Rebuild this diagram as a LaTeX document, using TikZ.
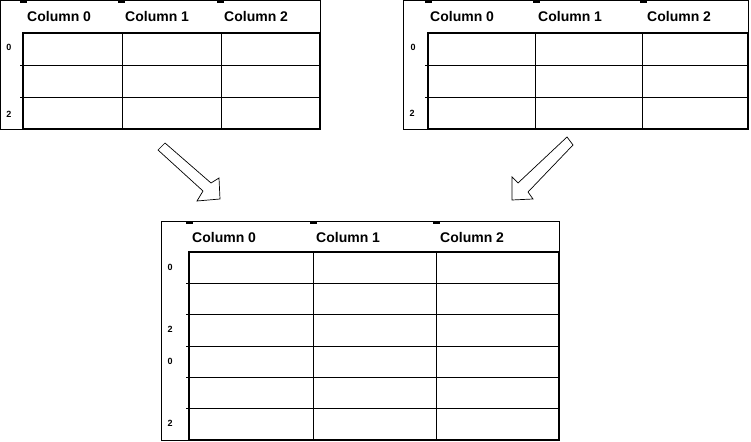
\documentclass[tikz,border=0pt]{standalone}
\usepackage{fontspec}
\setmainfont{Liberation Sans}
\begin{document}
\begin{tikzpicture}[x=1pt, y=-1pt, >=latex,
    frame/.style={line width=0.6pt},
    grid/.style={line width=0.8pt},
    border/.style={line width=1.6pt},
    tick/.style={line width=1.4pt},
    colhead/.style={anchor=west, inner sep=0pt, font=\fontsize{14}{16}\selectfont\bfseries},
    rowlab/.style={inner sep=0pt, font=\fontsize{9}{10}\selectfont\bfseries},
    bigarrow/.style={line width=0.7pt, fill=white, line join=miter}]
    \useasboundingbox (0,0) rectangle (751,441);

    % Верхняя левая таблица
    \draw[frame] (0,0) rectangle (320,129);
    \draw[grid] (20,65) -- (320,65);
    \draw[grid] (20,97) -- (320,97);
    \draw[grid] (122,33) -- (122,129);
    \draw[grid] (221,33) -- (221,129);
    \draw[border] (23,33) rectangle (320,129);
    \draw[tick] (20,2) -- (27,2);
    \draw[tick] (118,2) -- (125,2);
    \draw[tick] (217,2) -- (224,2);
    \node[colhead] (l0) at (27,16) {Column 0};
    \node[colhead] (l1) at (125,16) {Column 1};
    \node[colhead] (l2) at (224,16) {Column 2};
    \node[rowlab] (lr0) at (9,47) {0};
    \node[rowlab] (lr2) at (9,114) {2};

    % Верхняя правая таблица
    \draw[frame] (403,0) rectangle (748,129);
    \draw[grid] (425,65) -- (748,65);
    \draw[grid] (425,97) -- (748,97);
    \draw[grid] (535,33) -- (535,129);
    \draw[grid] (642,33) -- (642,129);
    \draw[border] (428,33) rectangle (748,129);
    \draw[tick] (425,2) -- (432,2);
    \draw[tick] (533,2) -- (540,2);
    \draw[tick] (640,2) -- (647,2);
    \node[colhead] (r0) at (430,16) {Column 0};
    \node[colhead] (r1) at (538,16) {Column 1};
    \node[colhead] (r2) at (647,16) {Column 2};
    \node[rowlab] (rr0) at (413,47) {0};
    \node[rowlab] (rr2) at (412,113) {2};

    % Стрелки к общей таблице
    \draw[bigarrow] (165,143) -- (211,183) -- (219,178) -- (220,199)
        -- (197,201) -- (203,191) -- (158,150) -- cycle;
    \draw[bigarrow] (567,137) -- (518,183) -- (512,177) -- (512,200)
        -- (533,199) -- (528,192) -- (573,145) -- cycle;

    % Нижняя таблица (результат)
    \draw[frame] (161,221) rectangle (559,440);
    \draw[grid] (186,283) -- (559,283);
    \draw[grid] (186,314) -- (559,314);
    \draw[grid] (186,346) -- (559,346);
    \draw[grid] (186,377) -- (559,377);
    \draw[grid] (186,408) -- (559,408);
    \draw[grid] (313,252) -- (313,440);
    \draw[grid] (436,252) -- (436,440);
    \draw[border] (189,252) rectangle (559,440);
    \draw[tick] (186,223) -- (193,223);
    \draw[tick] (310,223) -- (317,223);
    \draw[tick] (433,223) -- (440,223);
    \node[colhead] (b0) at (192,237) {Column 0};
    \node[colhead] (b1) at (316,237) {Column 1};
    \node[colhead] (b2) at (440,237) {Column 2};
    \node[rowlab] (br0) at (170,267) {0};
    \node[rowlab] (br2) at (170,329) {2};
    \node[rowlab] (br3) at (170,361) {0};
    \node[rowlab] (br5) at (170,423) {2};
\end{tikzpicture}
\end{document}
